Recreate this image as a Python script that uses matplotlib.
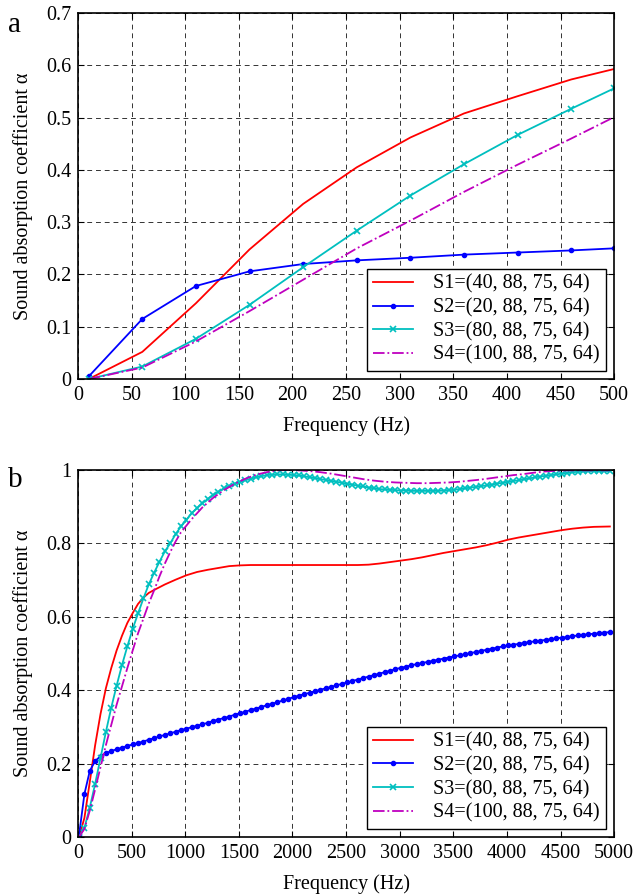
import matplotlib
matplotlib.use("Agg")
import matplotlib.pyplot as plt

plt.rcParams["font.family"] = ["Liberation Serif", "DejaVu Serif"]
plt.rcParams["mathtext.fontset"] = "stix"

labels = ["S1=(40, 88, 75, 64)", "S2=(20, 88, 75, 64)",
          "S3=(80, 88, 75, 64)", "S4=(100, 88, 75, 64)"]

# panel a: 10..500 Hz
freq_a = [10, 60, 110, 160, 210, 260, 310, 360, 410, 460, 500]
s1_a = [0.0, 0.052, 0.145, 0.248, 0.335, 0.405, 0.462, 0.508, 0.541, 0.573, 0.593]
s2_a = [0.005, 0.115, 0.178, 0.206, 0.220, 0.227, 0.232, 0.238, 0.242, 0.246, 0.250]
s3_a = [0.0, 0.024, 0.077, 0.142, 0.214, 0.284, 0.351, 0.411, 0.467, 0.517, 0.556]
s4_a = [0.0, 0.022, 0.072, 0.130, 0.190, 0.250, 0.303, 0.358, 0.410, 0.460, 0.501]

# panel b: 10..4960 Hz
freq_b = list(range(10, 5000, 50))
s2_b = [0.005, 0.117, 0.180, 0.207, 0.220, 0.228, 0.234, 0.239, 0.243, 0.248,
        0.252, 0.256, 0.260, 0.265, 0.269, 0.274, 0.278, 0.282, 0.287, 0.291,
        0.295, 0.299, 0.303, 0.307, 0.311, 0.316, 0.320, 0.324, 0.328, 0.333,
        0.337, 0.341, 0.346, 0.350, 0.354, 0.359, 0.363, 0.367, 0.372, 0.376,
        0.381, 0.385, 0.389, 0.393, 0.397, 0.401, 0.405, 0.409, 0.413, 0.417,
        0.421, 0.425, 0.429, 0.433, 0.437, 0.441, 0.445, 0.449, 0.453, 0.457,
        0.461, 0.464, 0.468, 0.471, 0.474, 0.477, 0.480, 0.483, 0.486, 0.489,
        0.492, 0.495, 0.498, 0.501, 0.504, 0.507, 0.510, 0.513, 0.516, 0.519,
        0.522, 0.524, 0.526, 0.529, 0.531, 0.533, 0.535, 0.537, 0.539, 0.541,
        0.543, 0.545, 0.547, 0.549, 0.551, 0.552, 0.554, 0.555, 0.557, 0.558]
s3_b = [0.0, 0.025, 0.080, 0.145, 0.215, 0.286, 0.352, 0.412, 0.468, 0.519,
        0.567, 0.609, 0.650, 0.688, 0.720, 0.750, 0.778, 0.800, 0.825, 0.846,
        0.864, 0.882, 0.896, 0.909, 0.921, 0.932, 0.941, 0.950, 0.957, 0.963,
        0.968, 0.972, 0.976, 0.980, 0.983, 0.986, 0.987, 0.988, 0.988, 0.987,
        0.986, 0.985, 0.983, 0.980, 0.978, 0.975, 0.973, 0.970, 0.968, 0.965,
        0.962, 0.960, 0.957, 0.955, 0.952, 0.950, 0.948, 0.947, 0.946, 0.945,
        0.944, 0.944, 0.943, 0.943, 0.943, 0.943, 0.943, 0.943, 0.944, 0.945,
        0.946, 0.948, 0.950, 0.952, 0.954, 0.956, 0.958, 0.960, 0.963, 0.965,
        0.968, 0.970, 0.972, 0.975, 0.977, 0.980, 0.982, 0.984, 0.986, 0.988,
        0.990, 0.992, 0.994, 0.995, 0.996, 0.997, 0.997, 0.997, 0.997, 0.997]

freq_s1 = [10, 60, 110, 160, 210, 260, 310, 360, 410, 460, 510, 560, 610, 660,
           710, 810, 910, 1010, 1110, 1210, 1310, 1410, 1510, 1610, 1810, 2010,
           2210, 2410, 2610, 2710, 2810, 2910, 3010, 3110, 3210, 3310, 3410,
           3510, 3610, 3710, 3810, 3910, 4010, 4110, 4210, 4310, 4410, 4510,
           4610, 4710, 4810, 4960]
s1_b = [0.0, 0.052, 0.150, 0.250, 0.335, 0.405, 0.460, 0.508, 0.548, 0.583,
        0.610, 0.635, 0.652, 0.665, 0.673, 0.688, 0.701, 0.713, 0.722, 0.728,
        0.733, 0.738, 0.740, 0.741, 0.741, 0.741, 0.741, 0.741, 0.741, 0.742,
        0.745, 0.749, 0.753, 0.757, 0.762, 0.768, 0.774, 0.779, 0.784, 0.789,
        0.795, 0.802, 0.810, 0.816, 0.821, 0.826, 0.831, 0.836, 0.840, 0.843,
        0.845, 0.846]

freq_s4 = [10, 60, 110, 160, 210, 260, 310, 360, 410, 460, 510, 560, 610, 660,
           710, 760, 810, 860, 910, 960, 1060, 1160, 1260, 1360, 1460, 1560,
           1660, 1760, 1860, 1960, 2060, 2160, 2260, 2360, 2460, 2560, 2660,
           2760, 2860, 2960, 3060, 3160, 3260, 3360, 3460, 3560, 3660, 3760,
           3860, 3960, 4060, 4160, 4260, 4360, 4460, 4560, 4660, 4760, 4860, 4960]
s4_b = [0.0, 0.022, 0.072, 0.130, 0.190, 0.250, 0.305, 0.360, 0.410, 0.460,
        0.508, 0.555, 0.595, 0.636, 0.672, 0.710, 0.745, 0.776, 0.805, 0.830,
        0.866, 0.898, 0.924, 0.945, 0.962, 0.976, 0.987, 0.994, 0.999, 1.000,
        0.999, 0.997, 0.994, 0.990, 0.985, 0.980, 0.975, 0.971, 0.968, 0.966,
        0.965, 0.964, 0.964, 0.965, 0.966, 0.968, 0.971, 0.974, 0.978, 0.982,
        0.986, 0.989, 0.993, 0.996, 0.998, 0.999, 0.999, 0.999, 0.999, 0.999]

red = "#ff0000"
blue = "#0000ff"
cyan = "#00bfbf"
magenta = "#bf00bf"

FS = 14.5

fig = plt.figure(figsize=(6.33, 8.94), dpi=100)
ax_a = fig.add_axes([0.1232, 0.576, 0.847, 0.4094])
ax_b = fig.add_axes([0.1232, 0.0638, 0.847, 0.4105])


def style_axes(ax):
    ax.grid(True, color="black", linestyle=(0, (5, 4)), linewidth=0.7, alpha=0.8)
    ax.tick_params(direction="in", labelsize=FS, length=4, width=0.8,
                   top=True, right=True, pad=5)
    for sp in ax.spines.values():
        sp.set_linewidth(1.2)
    ax.set_xlabel("Frequency (Hz)", fontsize=FS, labelpad=8)
    ax.set_ylabel("Sound absorption coefficient α", fontsize=FS, labelpad=9)
    leg = ax.legend(loc="lower right", fontsize=FS, frameon=True, fancybox=False,
                    edgecolor="black", handlelength=2.0, borderaxespad=0.4,
                    labelspacing=0.22, borderpad=0.3, handletextpad=1.0,
                    framealpha=1)
    leg.get_frame().set_linewidth(1.0)


# panel a
ax_a.plot(freq_a, s1_a, color=red, lw=1.3, label=labels[0])
ax_a.plot(freq_a, s2_a, color=blue, lw=1.3, marker=".", ms=6, label=labels[1])
ax_a.plot(freq_a, s3_a, color=cyan, lw=1.3, marker="x", ms=4, mew=1.2, label=labels[2])
ax_a.plot(freq_a, s4_a, color=magenta, lw=1.3, linestyle="-.", label=labels[3])
ax_a.set_xlim(0, 500)
ax_a.set_ylim(0, 0.7)
ax_a.set_xticks(range(0, 501, 50))
ax_a.set_yticks([0, 0.1, 0.2, 0.3, 0.4, 0.5, 0.6, 0.7])
ax_a.set_yticklabels(["0", "0.1", "0.2", "0.3", "0.4", "0.5", "0.6", "0.7"])
style_axes(ax_a)

# panel b
ax_b.plot(freq_s1, s1_b, color=red, lw=1.3, label=labels[0])
ax_b.plot(freq_b, s2_b, color=blue, lw=1.3, marker=".", ms=6, label=labels[1])
ax_b.plot(freq_b, s3_b, color=cyan, lw=1.3, marker="x", ms=4, mew=1.2, label=labels[2])
ax_b.plot(freq_s4, s4_b, color=magenta, lw=1.3, linestyle="-.", label=labels[3])
ax_b.set_xlim(0, 5000)
ax_b.set_ylim(0, 1)
ax_b.set_xticks(range(0, 5001, 500))
ax_b.set_yticks([0, 0.2, 0.4, 0.6, 0.8, 1.0])
ax_b.set_yticklabels(["0", "0.2", "0.4", "0.6", "0.8", "1"])
style_axes(ax_b)

fig.text(0.012, 0.972, "a", fontsize=21, va="center")
fig.text(0.012, 0.463, "b", fontsize=21, va="center")

fig.savefig("out.png", dpi=100)
